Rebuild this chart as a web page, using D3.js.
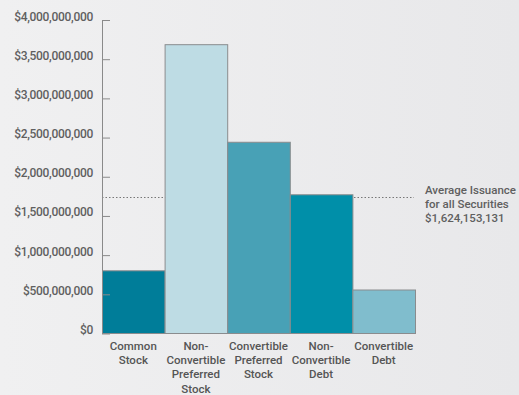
<!DOCTYPE html>
<html><head><meta charset="utf-8">
<script src="https://cdn.jsdelivr.net/npm/d3@7"></script>
<style>html,body{margin:0;padding:0;background:#eeeeef;}svg{display:block;}</style>
</head><body>
<svg id="c" width="519" height="395"></svg>
<script>
const categories = [["Common","Stock"],["Non-","Convertible","Preferred","Stock"],["Convertible","Preferred","Stock"],["Non-","Convertible","Debt"],["Convertible","Debt"]];
const values = [800000000, 3685000000, 2440000000, 1770000000, 555000000];
const barColors = ["#007d99","#bedce4","#48a1b6","#008fa9","#80bdcd"];
const tickValues = [0,500000000,1000000000,1500000000,2000000000,2500000000,3000000000,3500000000,4000000000];
const averageLineValue = 1735000000; // position as drawn in the picture
const averageLabel = ["Average Issuance","for all Securities","$1,624,153,131"];

const FONT = "Roboto, Liberation Sans, Arial, sans-serif";
const svg = d3.select("#c");
const defs = svg.append("defs");
const g = defs.append("linearGradient").attr("id","bg").attr("x1","0").attr("x2","1").attr("y1","0").attr("y2","0");
g.append("stop").attr("offset","0").attr("stop-color","#f0f0f1");
g.append("stop").attr("offset","1").attr("stop-color","#e8e8ea");
svg.append("rect").attr("width",519).attr("height",395).attr("fill","url(#bg)");

const x = d3.scaleBand().domain(d3.range(values.length)).range([102,415]).padding(0);
const y = d3.scaleLinear().domain([0,4000000000]).range([333.5,20]);

// average dotted line
svg.append("line").attr("x1",102).attr("x2",414).attr("y1",y(averageLineValue)).attr("y2",y(averageLineValue))
  .attr("stroke","#777").attr("stroke-width",1.2).attr("stroke-dasharray","1.5,2");

// bars
svg.append("g").selectAll("rect").data(values).join("rect")
  .attr("x",(d,i)=>x(i)+0.5).attr("width",x.bandwidth())
  .attr("y",d=>y(d)).attr("height",d=>y(0)-y(d))
  .attr("fill",(d,i)=>barColors[i]).attr("stroke","#8a8c8e").attr("stroke-width",1);

// axis
const axis = d3.axisLeft(y).tickValues(tickValues).tickSizeInner(-8).tickSizeOuter(0).tickPadding(9)
  .tickFormat(d=>"$"+d3.format(",")(d));
const ag = svg.append("g").attr("transform","translate(102,0)").call(axis);
ag.select(".domain").attr("stroke","#8a8a8a");
ag.selectAll(".tick line").attr("stroke","#8a8a8a");
ag.selectAll(".tick text").attr("fill","#5f5f5f").attr("font-family",FONT).attr("font-weight",500)
  .attr("font-size",12).attr("dy","-0.0em").attr("letter-spacing","-0.3");

// category labels
const cl = svg.append("g").attr("font-family",FONT).attr("font-weight",500).attr("font-size",11.5).attr("fill","#555").attr("text-anchor","middle");
categories.forEach((lines,i)=>{
  const t = cl.append("text").attr("x",x(i)+x.bandwidth()/2).attr("y",350);
  lines.forEach((l,j)=>t.append("tspan").attr("x",x(i)+x.bandwidth()/2).attr("dy",j===0?0:14.2).text(l));
});

// average annotation
const at = svg.append("text").attr("x",425).attr("y",194).attr("font-family",FONT).attr("font-weight",500)
  .attr("font-size",11.5).attr("fill","#5f5f5f");
averageLabel.forEach((l,j)=>at.append("tspan").attr("x",425).attr("dy",j===0?0:14).text(l));
</script>
</body></html>
